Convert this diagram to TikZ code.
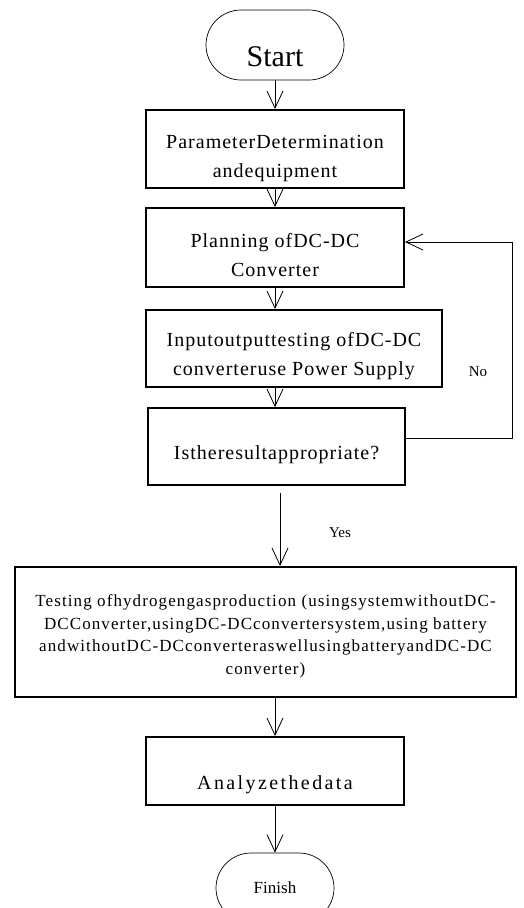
\documentclass[tikz,border=0pt]{standalone}
\usepackage{fontspec}
\setmainfont{Liberation Serif}
\newfontfamily\boxfont[LetterSpace=5]{Liberation Serif}
\newfontfamily\hydrofont[LetterSpace=6.5]{Liberation Serif}
\newfontfamily\wideboxfont[LetterSpace=12]{Liberation Serif}
\usetikzlibrary{arrows.meta,positioning}
\newcommand{\pad}[1]{\rule{0pt}{#1}}

\begin{document}
\begin{tikzpicture}[x=1pt, y=-1pt,
    blk/.style={draw, line width=2pt, minimum width=258pt, minimum height=78pt, align=center, inner sep=2pt, font=\boxfont\fontsize{20}{29}\selectfont},
    term/.style={draw, line width=0.7pt, rounded corners=35pt, minimum width=138pt, minimum height=70pt},
    arr/.style={-{Straight Barb[length=17pt,width=16pt]}, line width=0.8pt},
    lbl/.style={font=\fontsize{15}{18}\selectfont}
]
\useasboundingbox (0,0) rectangle (524,908);

\node[term, font=\fontsize{30}{36}\selectfont] (start) at (275,45) {\pad{44pt}Start};
\node[blk] (param) at (275,149) {\pad{32pt}ParameterDetermination\\andequipment};
\node[blk, minimum height=79pt] (plan) at (275,247.5) {\pad{30pt}Planning ofDC-DC\\Converter};
\node[blk, minimum width=296pt, minimum height=77pt] (test) at (294,348.5) {\pad{30pt}Inputoutputtesting ofDC-DC\\converteruse Power Supply};
\node[blk, minimum width=257pt, minimum height=77pt] (check) at (276.5,446.5) {\pad{30pt}Istheresultappropriate?};
\node[blk, minimum width=501pt, minimum height=130pt, font=\hydrofont\fontsize{17}{22.5}\selectfont] (hydro) at (265.5,632) {\pad{21pt}Testing ofhydrogengasproduction (usingsystemwithoutDC-\\DCConverter,usingDC-DCconvertersystem,using battery\\andwithoutDC-DCconverteraswellusingbatteryandDC-DC\\converter)};
\node[blk, minimum height=68pt, font=\wideboxfont\fontsize{20}{29}\selectfont] (analyze) at (275,771) {\pad{42pt}Analyzethedata};
\node[term, minimum width=118pt, font=\fontsize{17}{20}\selectfont] (finish) at (275,888) {Finish};

\node[lbl] (yes) at (340,533) {Yes};
\node[lbl] (no) at (478,372) {No};

\draw[arr] (start) -- (param);
\draw[arr] (param) -- (plan);
\draw[arr] (plan) -- (plan |- test.north);
\draw[arr] (test.south -| plan) -- (check.north -| plan);
\draw[arr, shorten <=7pt] ([xshift=3.5pt]check.south) -- ([xshift=3.5pt]check.south |- hydro.north);
\draw[arr] ([yshift=8.5pt]check.east) -- ++(106,0) |- ([yshift=5.5pt]plan.east);
\draw[arr] (hydro.south -| analyze) -- (analyze);
\draw[arr] (analyze) -- (finish);
\end{tikzpicture}
\end{document}
